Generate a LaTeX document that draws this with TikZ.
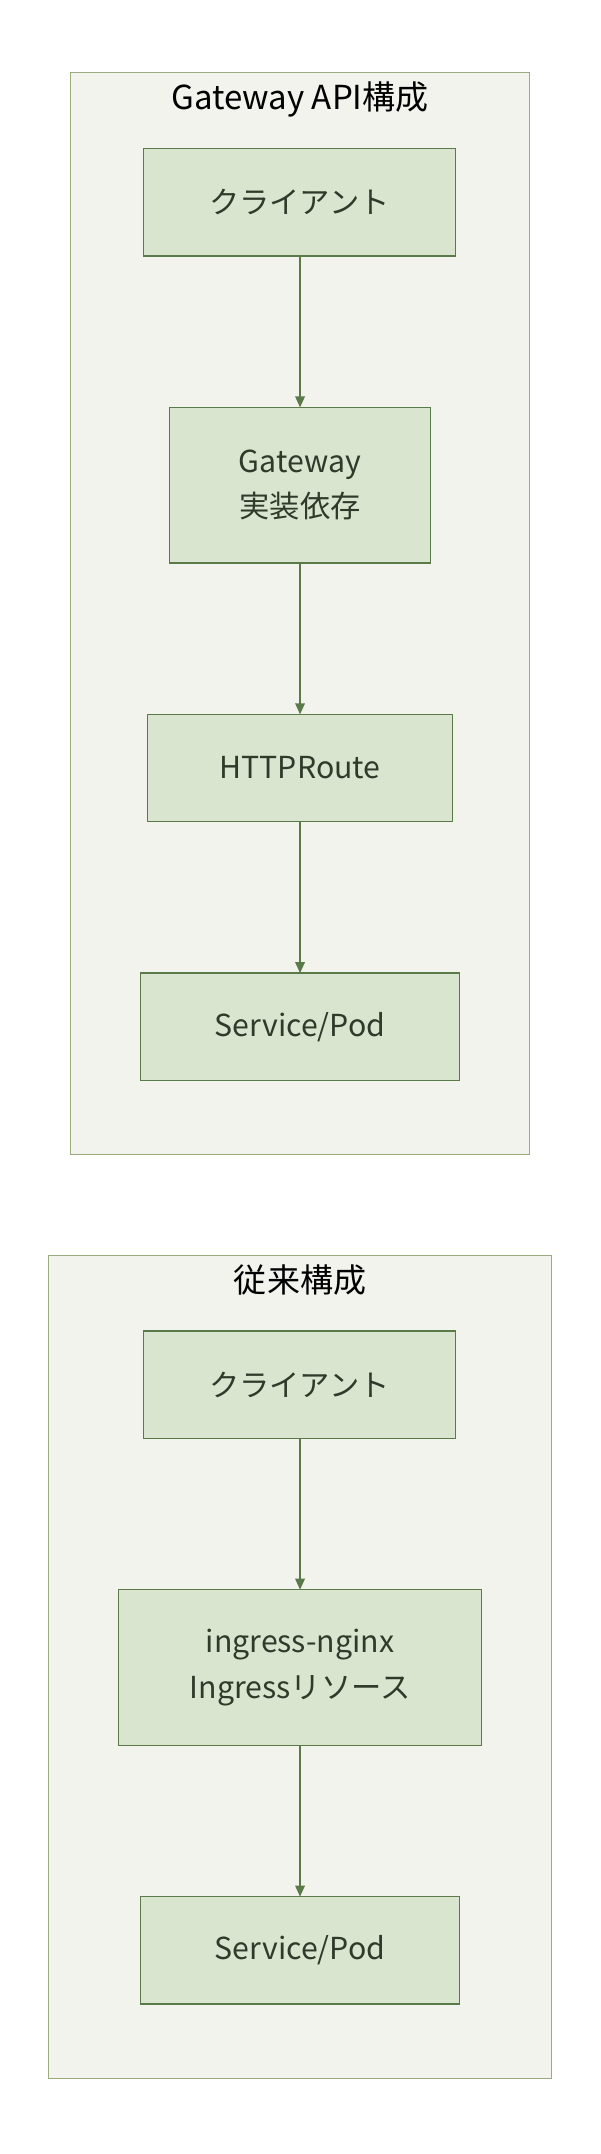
\documentclass[tikz,border=0pt]{standalone}
\usepackage{fontspec}
\setmainfont{Noto Sans CJK JP}
\usetikzlibrary{arrows.meta}
\definecolor{clf}{HTML}{F2F3EC}
\definecolor{cld}{HTML}{9AAB80}
\definecolor{ndf}{HTML}{DAE5CF}
\definecolor{ndd}{HTML}{5A7A4A}
\definecolor{txt}{HTML}{2F3A2A}
\begin{document}
\begin{tikzpicture}[x=1pt,y=-1pt,
  cl/.style={draw=cld,fill=clf,line width=0.8pt},
  nd/.style={draw=ndd,fill=ndf,line width=0.9pt},
  lb/.style={text=txt,font=\fontsize{22}{33}\selectfont,align=center},
  tt/.style={text=black,font=\fontsize{24}{30}\selectfont},
  ar/.style={draw=ndd,line width=1pt,-{Triangle[length=8pt,width=7pt]}}]
\useasboundingbox (0,0) rectangle (436,1565);
% cluster 1
\draw[cl] (51,53) rectangle (385,839);
\node[tt] (t1) at (218,72) {Gateway API構成};
\draw[nd] (104,108) rectangle (331,186);
\node[lb] (a1) at (217.5,147) {クライアント};
\draw[nd] (123,296) rectangle (313,409);
\node[lb] (a2) at (218,352.5) {Gateway\\実装依存};
\draw[nd] (107,519) rectangle (329,597);
\node[lb] (a3) at (218,558) {HTTPRoute};
\draw[nd] (102,707) rectangle (334,785);
\node[lb] (a4) at (218,746) {Service/Pod};
\coordinate (p1) at (218,186); \coordinate (q1) at (218,296);
\coordinate (p2) at (218,409); \coordinate (q2) at (218,519);
\coordinate (p3) at (218,597); \coordinate (q3) at (218,707);
\draw[ar] (p1) -- (q1);
\draw[ar] (p2) -- (q2);
\draw[ar] (p3) -- (q3);
% cluster 2
\draw[cl] (35,912) rectangle (401,1510);
\node[tt] (t2) at (218,930) {従来構成};
\draw[nd] (104,967) rectangle (331,1045);
\node[lb] (b1) at (217.5,1006) {クライアント};
\draw[nd] (86,1155) rectangle (350,1268);
\node[lb] (b2) at (218,1211.5) {ingress-nginx\\Ingressリソース};
\draw[nd] (102,1378) rectangle (334,1456);
\node[lb] (b3) at (218,1417) {Service/Pod};
\coordinate (r1) at (218,1045); \coordinate (s1) at (218,1155);
\coordinate (r2) at (218,1268); \coordinate (s2) at (218,1378);
\draw[ar] (r1) -- (s1);
\draw[ar] (r2) -- (s2);
\end{tikzpicture}
\end{document}
